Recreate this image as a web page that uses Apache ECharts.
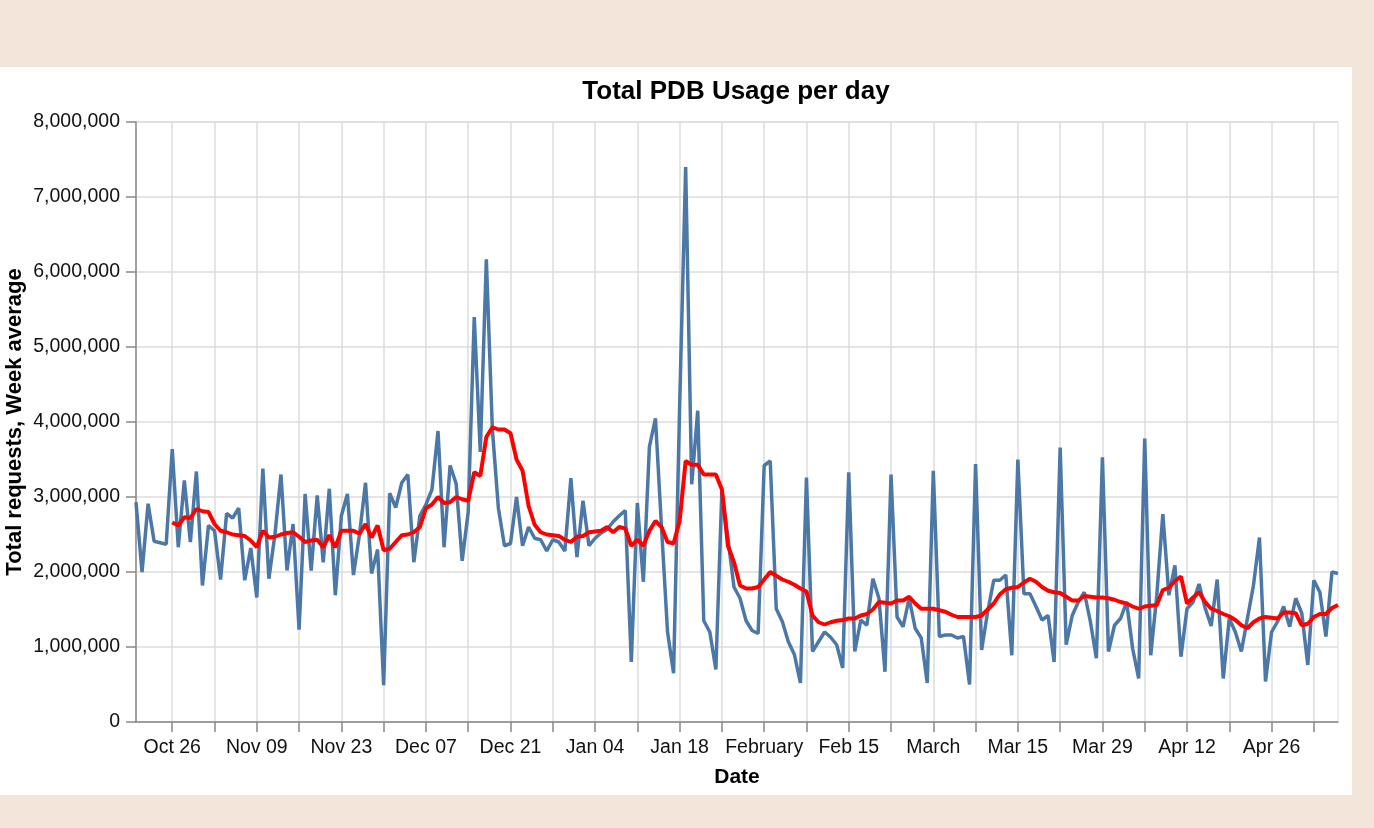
<!DOCTYPE html>
<html>
<head>
<meta charset="utf-8">
<script src="https://cdn.jsdelivr.net/npm/echarts@6/dist/echarts.min.js"></script>
<style>
  html, body { margin: 0; padding: 0; background: #f3e5d9; }
  #panel { position: absolute; left: 0; top: 67px; width: 1352px; height: 728px; background: #fff; }
  #chart { width: 1352px; height: 728px; }
</style>
</head>
<body>
<div id="panel"><div id="chart"></div></div>
<script>
// daily values, millions of requests, from 2014-10-20
const firstDay = '2014-10-20'
const dailyTotal = [
  2.93, 2.00, 2.91, 2.41, 2.39, 2.37, 3.64, 2.33, 3.22, 2.40,
  3.34, 1.82, 2.62, 2.55, 1.90, 2.78, 2.72, 2.85, 1.89, 2.32,
  1.66, 3.38, 1.91, 2.50, 3.30, 2.02, 2.64, 1.23, 3.04, 2.02,
  3.02, 2.13, 3.11, 1.69, 2.75, 3.04, 1.96, 2.50, 3.19, 1.98,
  2.30, 0.49, 3.05, 2.86, 3.19, 3.30, 2.13, 2.75, 2.90, 3.10,
  3.88, 2.33, 3.42, 3.18, 2.15, 2.80, 5.40, 3.60, 6.17, 3.90,
  2.85, 2.35, 2.38, 3.00, 2.35, 2.60, 2.45, 2.43, 2.28, 2.43,
  2.40, 2.28, 3.25, 2.20, 2.95, 2.35, 2.45, 2.52, 2.57, 2.67,
  2.75, 2.82, 0.80, 2.92, 1.87, 3.67, 4.05, 2.60, 1.20, 0.65,
  4.20, 7.40, 3.17, 4.15, 1.35, 1.20, 0.70, 3.10, 2.45, 1.80,
  1.65, 1.35, 1.22, 1.18, 3.42, 3.48, 1.51, 1.34, 1.07, 0.90,
  0.52, 3.26, 0.94, 1.07, 1.20, 1.13, 1.03, 0.72, 3.33, 0.94,
  1.36, 1.29, 1.91, 1.65, 0.67, 3.30, 1.40, 1.27, 1.65, 1.25,
  1.12, 0.52, 3.35, 1.14, 1.16, 1.16, 1.12, 1.14, 0.50, 3.44,
  0.96, 1.47, 1.89, 1.89, 1.96, 0.89, 3.50, 1.71, 1.71, 1.54,
  1.36, 1.42, 0.80, 3.66, 1.03, 1.42, 1.60, 1.73, 1.34, 0.85,
  3.53, 0.94, 1.29, 1.38, 1.60, 0.98, 0.58, 3.78, 0.89, 1.69,
  2.77, 1.69, 2.09, 0.87, 1.51, 1.60, 1.84, 1.52, 1.28, 1.90,
  0.58, 1.38, 1.20, 0.94, 1.38, 1.82, 2.46, 0.54, 1.20, 1.34,
  1.54, 1.27, 1.65, 1.45, 0.76, 1.89, 1.73, 1.14, 2.00, 1.98
]
const weekAverage = [
  null, null, null, null, null, null, 2.66, 2.62, 2.73, 2.72,
  2.84, 2.81, 2.80, 2.64, 2.55, 2.53, 2.50, 2.49, 2.48, 2.42,
  2.33, 2.55, 2.46, 2.47, 2.50, 2.52, 2.53, 2.47, 2.40, 2.42,
  2.43, 2.33, 2.49, 2.33, 2.55, 2.55, 2.55, 2.51, 2.64, 2.46,
  2.62, 2.29, 2.31, 2.40, 2.49, 2.50, 2.53, 2.60, 2.85, 2.90,
  3.00, 2.92, 2.93, 3.00, 2.97, 2.95, 3.33, 3.28, 3.80, 3.93,
  3.90, 3.90, 3.85, 3.50, 3.35, 2.88, 2.63, 2.53, 2.50, 2.49,
  2.48, 2.43, 2.40, 2.47, 2.48, 2.53, 2.54, 2.55, 2.60, 2.53,
  2.60, 2.58, 2.35, 2.43, 2.35, 2.55, 2.68, 2.60, 2.40, 2.38,
  2.68, 3.48, 3.43, 3.43, 3.30, 3.30, 3.30, 3.10, 2.35, 2.13,
  1.82, 1.78, 1.78, 1.80, 1.90, 2.00, 1.95, 1.90, 1.87, 1.83,
  1.78, 1.74, 1.42, 1.33, 1.30, 1.33, 1.35, 1.36, 1.38, 1.38,
  1.42, 1.44, 1.50, 1.60, 1.59, 1.58, 1.62, 1.62, 1.67, 1.58,
  1.51, 1.51, 1.51, 1.49, 1.47, 1.43, 1.40, 1.40, 1.40, 1.40,
  1.42, 1.50, 1.58, 1.70, 1.77, 1.79, 1.80, 1.86, 1.91, 1.87,
  1.80, 1.75, 1.73, 1.72, 1.67, 1.62, 1.62, 1.68, 1.67, 1.66,
  1.66, 1.65, 1.63, 1.60, 1.58, 1.54, 1.51, 1.54, 1.55, 1.56,
  1.76, 1.79, 1.88, 1.94, 1.58, 1.66, 1.73, 1.60, 1.51, 1.48,
  1.44, 1.41, 1.36, 1.29, 1.25, 1.33, 1.38, 1.40, 1.39, 1.38,
  1.46, 1.46, 1.45, 1.29, 1.31, 1.40, 1.44, 1.44, 1.52, 1.56
]
const tickDates = ['2014-10-26', '2014-11-09', '2014-11-23', '2014-12-07', '2014-12-21', '2015-01-04', '2015-01-18',
  '2015-02-01', '2015-02-15', '2015-03-01', '2015-03-15', '2015-03-29', '2015-04-12', '2015-04-26']
const tickLabels = ['Oct 26', 'Nov 09', 'Nov 23', 'Dec 07', 'Dec 21', 'Jan 04', 'Jan 18',
  'February', 'Feb 15', 'March', 'Mar 15', 'Mar 29', 'Apr 12', 'Apr 26']
const yTicks = [0, 1, 2, 3, 4, 5, 6, 7, 8]

// one category per day
const days = []
const start = new Date(firstDay + 'T00:00:00Z')
for (let i = 0; i < dailyTotal.length; i++) {
  const d = new Date(start.getTime() + i * 86400000)
  days.push(d.toISOString().slice(0, 10))
}
const isSunday = (idx) => new Date(days[idx] + 'T00:00:00Z').getUTCDay() === 0

const font = 'Liberation Sans, Arial, Helvetica, sans-serif'
const chart = echarts.init(document.getElementById('chart'))
chart.setOption({
  animation: false,
  title: {
    text: 'Total PDB Usage per day',
    left: 731,
    textAlign: 'center',
    top: 7,
    textStyle: { fontFamily: font, fontSize: 26, fontWeight: 'bold', color: '#000' }
  },
  grid: {
    left: 136,
    right: 14,
    top: 55,
    bottom: 73,
    outerBoundsMode: 'none',
    containLabel: false,
    show: true,
    borderColor: '#ddd',
    borderWidth: 1
  },
  xAxis: {
    type: 'category',
    data: days,
    boundaryGap: false,
    name: 'Date',
    nameLocation: 'middle',
    nameGap: 45,
    nameTextStyle: { fontFamily: font, fontSize: 21, fontWeight: 'bold', color: '#000' },
    axisLine: { lineStyle: { color: '#888', width: 1.5 } },
    axisTick: { length: 10, interval: (idx) => isSunday(idx), lineStyle: { color: '#888', width: 1.5 } },
    axisLabel: {
      margin: 16,
      interval: (idx, val) => tickDates.includes(val),
      formatter: (val) => tickLabels[tickDates.indexOf(val)],
      fontFamily: font,
      fontSize: 19.5,
      color: '#111'
    },
    splitLine: { show: true, interval: (idx) => isSunday(idx), lineStyle: { color: '#ddd', width: 1.5 } }
  },
  yAxis: {
    type: 'value',
    min: yTicks[0],
    max: yTicks[yTicks.length - 1],
    interval: 1,
    name: 'Total requests, Week average',
    nameLocation: 'middle',
    nameRotate: 90,
    nameGap: 110,
    nameMoveOverlap: false,
    nameTextStyle: { fontFamily: font, fontSize: 22, fontWeight: 'bold', color: '#000' },
    axisLine: { show: true, lineStyle: { color: '#888', width: 1.5 } },
    axisTick: { show: true, length: 10, lineStyle: { color: '#888', width: 1.5 } },
    axisLabel: {
      margin: 16,
      formatter: (v) => (v * 1000000).toLocaleString('en-US'),
      fontFamily: font,
      fontSize: 19.5,
      color: '#111'
    },
    splitLine: { lineStyle: { color: '#ddd', width: 1.5 } }
  },
  series: [
    {
      name: 'Total requests',
      type: 'line',
      data: dailyTotal,
      showSymbol: false,
      lineStyle: { color: '#4c78a8', width: 3.5 },
      itemStyle: { color: '#4c78a8' }
    },
    {
      name: 'Week average',
      type: 'line',
      data: weekAverage,
      showSymbol: false,
      lineStyle: { color: '#ff0000', width: 4 },
      itemStyle: { color: '#ff0000' }
    }
  ]
})
</script>
</body>
</html>
